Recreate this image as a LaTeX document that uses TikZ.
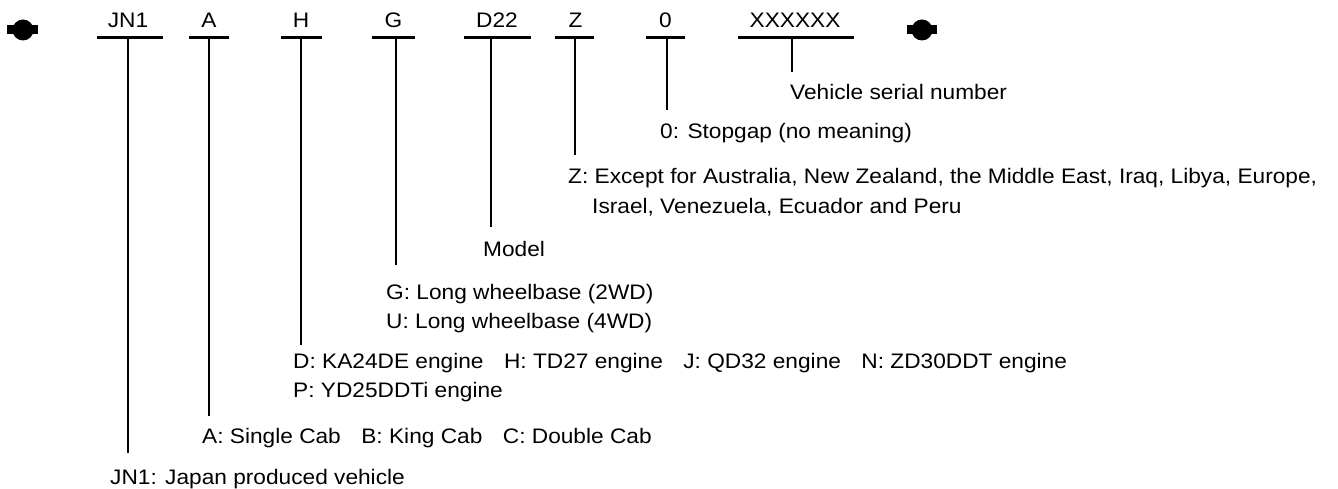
\documentclass[tikz,border=0pt]{standalone}
\usepackage{fontspec}
\usepackage{graphicx}
\setmainfont{Liberation Sans}
\newcommand{\sx}[1]{\scalebox{1.08}[1]{#1}}
\newcommand{\gap}{\hspace{19pt}}
\begin{document}
\begin{tikzpicture}[x=1pt,y=-1pt,
  txt/.style={anchor=base west,inner sep=0pt,font=\fontsize{21}{25}\selectfont},
  code/.style={anchor=base,inner sep=0pt,font=\fontsize{21}{25}\selectfont},
  uline/.style={line width=3pt},
  leader/.style={line width=1.3pt},
  endmark/.style={fill=black}]
\useasboundingbox (0,0) rectangle (1338,489);

% end marks
\fill[endmark] (23,30) circle (10.5);
\fill[endmark] (7,25) rectangle (38,34.5);
\fill[endmark] (922,30) circle (10.5);
\fill[endmark] (907,25) rectangle (937,34.5);

% code labels
\node[code] (cJN) at (128,28) {\sx{JN1}};
\node[code] (cA) at (209,28) {\sx{A}};
\node[code] (cH) at (301,28) {\sx{H}};
\node[code] (cG) at (393.5,28) {\sx{G}};
\node[code] (cD) at (497,28) {\sx{D22}};
\node[code] (cZ) at (575.5,28) {\sx{Z}};
\node[code] (c0) at (665.5,28) {\sx{0}};
\node[code] (cX) at (795,28) {\sx{XXXXXX}};

% underlines
\draw[uline] (97,37.5) -- (163,37.5);
\draw[uline] (189,37.5) -- (229,37.5);
\draw[uline] (281,37.5) -- (322,37.5);
\draw[uline] (372,37.5) -- (415,37.5);
\draw[uline] (464,37.5) -- (531,37.5);
\draw[uline] (555,37.5) -- (594,37.5);
\draw[uline] (646,37.5) -- (685,37.5);
\draw[uline] (738,37.5) -- (854,37.5);

% leader coordinates
\coordinate (tJN) at (128,37.5);  \coordinate (bJN) at (128,453);
\coordinate (tA) at (209,37.5);   \coordinate (bA) at (209,416);
\coordinate (tH) at (301,37.5);   \coordinate (bH) at (301,345);
\coordinate (tG) at (396,37.5);   \coordinate (bG) at (396,265);
\coordinate (tD) at (491,37.5);   \coordinate (bD) at (491,227);
\coordinate (tZ) at (575,37.5);   \coordinate (bZ) at (575,155);
\coordinate (t0) at (667,37.5);   \coordinate (b0) at (667,110);
\coordinate (tX) at (792,37.5);   \coordinate (bX) at (792,72);

\draw[leader] (tJN) -- (bJN);
\draw[leader] (tA) -- (bA);
\draw[leader] (tH) -- (bH);
\draw[leader] (tG) -- (bG);
\draw[leader] (tD) -- (bD);
\draw[leader] (tZ) -- (bZ);
\draw[leader] (t0) -- (b0);
\draw[leader] (tX) -- (bX);

% descriptions
\node[txt] (vsn) at (790,100) {\sx{Vehicle serial number}};
\node[txt] (stop) at (660,139) {\sx{0: Stopgap (no meaning)}};
\node[txt] (zl1) at (568,184) {\sx{Z: Except for Australia, New Zealand, the Middle East, Iraq, Libya, Europe,}};
\node[txt] (zl2) at (592,214) {\sx{Israel, Venezuela, Ecuador and Peru}};
\node[txt] (model) at (483,256) {\sx{Model}};
\node[txt] (gl) at (386,299) {\sx{G: Long wheelbase (2WD)}};
\node[txt] (ul) at (386,328) {\sx{U: Long wheelbase (4WD)}};
\node[txt] (dl) at (293,368) {\sx{D: KA24DE engine\gap H: TD27 engine\gap J: QD32 engine\gap N: ZD30DDT engine}};
\node[txt] (pl) at (293,397) {\sx{P: YD25DDTi engine}};
\node[txt] (al) at (202,443) {\sx{A: Single Cab\gap B: King Cab\gap C: Double Cab}};
\node[txt] (jl) at (110,484) {\sx{JN1: Japan produced vehicle}};
\end{tikzpicture}
\end{document}
